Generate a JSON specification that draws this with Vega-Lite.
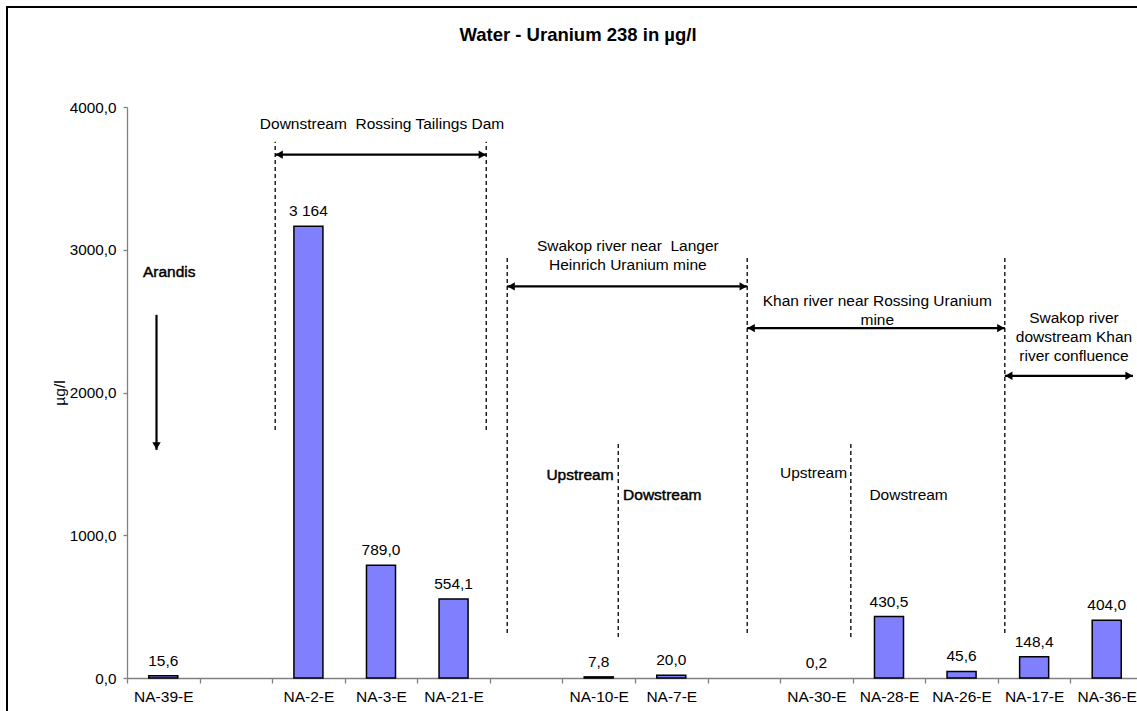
{
  "$schema": "https://vega.github.io/schema/vega-lite/v6.json",
  "width": 1132,
  "height": 706,
  "autosize": {"type": "none"},
  "padding": {"left": 7, "top": 7, "right": -2, "bottom": -2},
  "background": "white",
  "config": {
    "view": {"stroke": "black", "strokeWidth": 2},
    "font": "Liberation Sans",
    "text": {"font": "Liberation Sans"}
  },
  "title": {
    "text": "Water - Uranium 238 in µg/l",
    "fontSize": 18.5,
    "fontWeight": "bold",
    "font": "Liberation Sans",
    "color": "black",
    "anchor": "middle",
    "dx": 5,
    "offset": -37.5
  },
  "datasets": {
    "bars": [
      {"site": "NA-39-E", "value": 15.6},
      {"site": "NA-2-E", "value": 3164},
      {"site": "NA-3-E", "value": 789.0},
      {"site": "NA-21-E", "value": 554.1},
      {"site": "NA-10-E", "value": 7.8},
      {"site": "NA-7-E", "value": 20.0},
      {"site": "NA-30-E", "value": 0.2},
      {"site": "NA-28-E", "value": 430.5},
      {"site": "NA-26-E", "value": 45.6},
      {"site": "NA-17-E", "value": 148.4},
      {"site": "NA-36-E", "value": 404.0}
    ],
    "vlines": [
      {"u": 2.042, "v1": 1738, "v2": 3757},
      {"u": 4.95, "v1": 1738, "v2": 3757},
      {"u": 5.239, "v1": 315, "v2": 2951},
      {"u": 8.546, "v1": 315, "v2": 2951},
      {"u": 12.096, "v1": 315, "v2": 2951},
      {"u": 6.769, "v1": 287, "v2": 1647},
      {"u": 9.974, "v1": 287, "v2": 1647}
    ],
    "harrows": [
      {"u1": 2.042, "u2": 4.95, "v": 3666},
      {"u1": 5.239, "u2": 8.546, "v": 2743},
      {"u1": 8.546, "u2": 12.096, "v": 2451},
      {"u1": 12.096, "u2": 13.862, "v": 2117}
    ],
    "varrows": [
      {"u": 0.4065, "v1": 2544, "v2": 1598}
    ],
    "notes": [
      {"u": 3.514, "v": 3883, "label": "Downstream\u00a0 Rossing Tailings Dam"},
      {"u": 6.901, "v": 3026, "label": ["Swakop river near\u00a0 Langer", "Heinrich Uranium mine"]},
      {"u": 10.339, "v": 2644, "label": ["Khan river near Rossing Uranium", "mine"]},
      {"u": 13.049, "v": 2521, "label": ["Swakop river", "dowstream Khan", "river confluence"]},
      {"u": 9.46, "v": 1435, "label": "Upstream"},
      {"u": 10.77, "v": 1283, "label": "Dowstream"}
    ],
    "darknotes": [
      {"u": 0.5815, "v": 2841, "label": "Arandis"},
      {"u": 6.242, "v": 1423, "label": "Upstream"},
      {"u": 7.376, "v": 1283, "label": "Dowstream"}
    ]
  },
  "resolve": {"scale": {"x": "independent"}},
  "layer": [
    {
      "data": {"name": "bars"},
      "mark": {"type": "bar", "width": {"band": 0.4}, "fill": "#8080FF", "stroke": "black"},
      "encoding": {
        "x": {
          "field": "site", "type": "nominal", "sort": null,
          "scale": {
            "domain": ["NA-39-E", " ", "NA-2-E", "NA-3-E", "NA-21-E", "  ", "NA-10-E", "NA-7-E", "   ", "NA-30-E", "NA-28-E", "NA-26-E", "NA-17-E", "NA-36-E"],
            "range": [120, 1136], "paddingInner": 0, "paddingOuter": 0
          },
          "axis": {
            "title": null, "tickBand": "extent", "labelAngle": 0, "offset": -35,
            "labelFontSize": 15.5, "labelColor": "black", "labelFont": "Liberation Sans",
            "domainColor": "#808080", "tickColor": "#808080", "domainWidth": 1.3, "tickWidth": 1.3,
            "tickSize": 5, "labelPadding": 6, "labelOverlap": false, "labelBound": false, "labelFlush": false
          }
        },
        "y": {
          "field": "value", "type": "quantitative",
          "scale": {"domain": [0, 4000], "nice": false, "range": [671, 100]},
          "axis": {
            "title": "µg/l", "values": [0, 1000, 2000, 3000, 4000], "offset": -120,
            "labelExpr": "replace(format(datum.value, '.1f'), '.', ',')",
            "grid": false, "tickSize": 4, "labelPadding": 7,
            "labelFontSize": 15.3, "labelColor": "black", "labelFont": "Liberation Sans",
            "titleFontSize": 15.5, "titleFontWeight": "normal", "titleColor": "black", "titleFont": "Liberation Sans",
            "titlePadding": 2,
            "domainColor": "#808080", "tickColor": "#808080", "domainWidth": 1.3, "tickWidth": 1.3
          }
        },
        "strokeWidth": {"condition": {"test": "datum.value < 1", "value": 0}, "value": 1.5}
      }
    },
    {
      "data": {"name": "bars"},
      "transform": [
        {"calculate": "datum.value >= 1000 ? replace(format(datum.value, ',.0f'), ',', ' ') : replace(format(datum.value, '.1f'), '.', ',')", "as": "lbl"}
      ],
      "mark": {"type": "text", "fontSize": 15.5, "color": "black", "baseline": "alphabetic", "dy": -10},
      "encoding": {
        "x": {
          "field": "site", "type": "nominal", "sort": null,
          "scale": {
            "domain": ["NA-39-E", " ", "NA-2-E", "NA-3-E", "NA-21-E", "  ", "NA-10-E", "NA-7-E", "   ", "NA-30-E", "NA-28-E", "NA-26-E", "NA-17-E", "NA-36-E"],
            "range": [120, 1136], "paddingInner": 0, "paddingOuter": 0
          },
          "axis": null
        },
        "y": {"field": "value", "type": "quantitative"},
        "text": {"field": "lbl", "type": "nominal"}
      }
    },
    {
      "data": {"name": "vlines"},
      "mark": {"type": "rule", "color": "black", "strokeWidth": 1.3, "strokeDash": [4, 3]},
      "encoding": {
        "x": {"field": "u", "type": "quantitative", "scale": {"domain": [0, 14], "range": [120, 1136], "nice": false, "zero": false}, "axis": null},
        "y": {"field": "v1", "type": "quantitative"},
        "y2": {"field": "v2"}
      }
    },
    {
      "data": {"name": "harrows"},
      "mark": {"type": "rule", "color": "black", "strokeWidth": 2.2},
      "encoding": {
        "x": {"field": "u1", "type": "quantitative", "scale": {"domain": [0, 14], "range": [120, 1136], "nice": false, "zero": false}, "axis": null},
        "x2": {"field": "u2"},
        "y": {"field": "v", "type": "quantitative"}
      }
    },
    {
      "data": {"name": "harrows"},
      "mark": {"type": "point", "shape": "triangle-left", "filled": true, "color": "black", "opacity": 1, "size": 70, "xOffset": 4},
      "encoding": {
        "x": {"field": "u1", "type": "quantitative", "scale": {"domain": [0, 14], "range": [120, 1136], "nice": false, "zero": false}, "axis": null},
        "y": {"field": "v", "type": "quantitative"}
      }
    },
    {
      "data": {"name": "harrows"},
      "mark": {"type": "point", "shape": "triangle-right", "filled": true, "color": "black", "opacity": 1, "size": 70, "xOffset": -4},
      "encoding": {
        "x": {"field": "u2", "type": "quantitative", "scale": {"domain": [0, 14], "range": [120, 1136], "nice": false, "zero": false}, "axis": null},
        "y": {"field": "v", "type": "quantitative"}
      }
    },
    {
      "data": {"name": "varrows"},
      "mark": {"type": "rule", "color": "black", "strokeWidth": 2.2},
      "encoding": {
        "x": {"field": "u", "type": "quantitative", "scale": {"domain": [0, 14], "range": [120, 1136], "nice": false, "zero": false}, "axis": null},
        "y": {"field": "v1", "type": "quantitative"},
        "y2": {"field": "v2"}
      }
    },
    {
      "data": {"name": "varrows"},
      "mark": {"type": "point", "shape": "triangle-down", "filled": true, "color": "black", "opacity": 1, "size": 70, "yOffset": -4},
      "encoding": {
        "x": {"field": "u", "type": "quantitative", "scale": {"domain": [0, 14], "range": [120, 1136], "nice": false, "zero": false}, "axis": null},
        "y": {"field": "v2", "type": "quantitative"}
      }
    },
    {
      "data": {"name": "notes"},
      "mark": {"type": "text", "fontSize": 15.5, "color": "black", "align": "center", "baseline": "middle", "lineHeight": 19},
      "encoding": {
        "x": {"field": "u", "type": "quantitative", "scale": {"domain": [0, 14], "range": [120, 1136], "nice": false, "zero": false}, "axis": null},
        "y": {"field": "v", "type": "quantitative"},
        "text": {"field": "label"}
      }
    },
    {
      "data": {"name": "darknotes"},
      "mark": {"type": "text", "fontSize": 15.5, "color": "black", "stroke": "black", "strokeWidth": 0.45, "align": "center", "baseline": "middle"},
      "encoding": {
        "x": {"field": "u", "type": "quantitative", "scale": {"domain": [0, 14], "range": [120, 1136], "nice": false, "zero": false}, "axis": null},
        "y": {"field": "v", "type": "quantitative"},
        "text": {"field": "label"}
      }
    }
  ]
}
